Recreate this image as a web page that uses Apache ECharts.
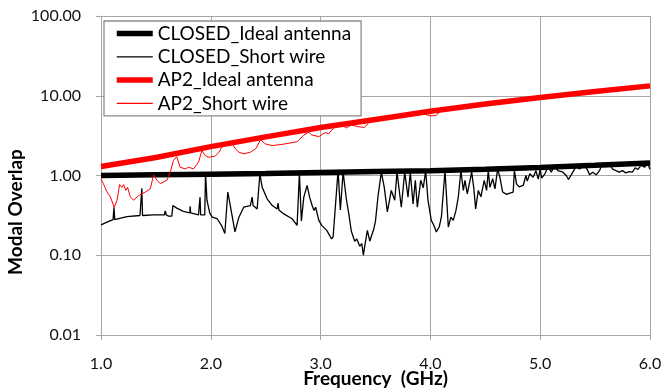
<!DOCTYPE html>
<html>
<head>
<meta charset="utf-8">
<script src="https://cdn.jsdelivr.net/npm/echarts@6/dist/echarts.min.js"></script>
<style>
  html, body { margin: 0; padding: 0; background: #fff; }
  #chart { width: 665px; height: 392px; }
</style>
</head>
<body>
<div id="chart"></div>
<script>
// Frequency axis ticks (GHz) and modal-overlap decade ticks
const freqTicks = [1.0, 2.0, 3.0, 4.0, 5.0, 6.0];
const overlapTicks = [0.01, 0.1, 1, 10, 100];

// Ideal-antenna curves (sampled every 0.5 GHz)
const idealFreq = [1.0, 1.5, 2.0, 2.5, 3.0, 3.5, 4.0, 4.5, 5.0, 5.5, 6.0];
const closedIdeal = [1.00, 1.02, 1.04, 1.06, 1.09, 1.12, 1.15, 1.20, 1.26, 1.34, 1.43];
const ap2Ideal = [1.30, 1.68, 2.30, 3.05, 4.00, 5.05, 6.40, 7.90, 9.50, 11.30, 13.30];

// CLOSED chamber, short-wire antenna
const closedWireFreq = [
  1.00, 1.055, 1.11, 1.118, 1.125, 1.236, 1.355, 1.372, 1.378, 1.48,
  1.578, 1.585, 1.595, 1.615, 1.645, 1.655, 1.69, 1.75, 1.808, 1.812,
  1.816, 1.888, 1.902, 1.908, 1.945, 1.952, 1.965, 1.99, 2.013, 2.058,
  2.097, 2.128, 2.155, 2.18, 2.22, 2.256, 2.30, 2.36, 2.377, 2.385,
  2.422, 2.447, 2.468, 2.513, 2.56, 2.604, 2.613, 2.62, 2.665, 2.74,
  2.786, 2.807, 2.825, 2.847, 2.877, 2.90, 2.923, 2.94, 2.955, 2.984,
  3.01, 3.056, 3.10, 3.114, 3.159, 3.18, 3.205, 3.235, 3.257, 3.28,
  3.311, 3.33, 3.357, 3.375, 3.39, 3.40, 3.426, 3.448, 3.487, 3.50,
  3.523, 3.553, 3.58, 3.608, 3.644, 3.675, 3.696, 3.735, 3.766, 3.796,
  3.817, 3.842, 3.863, 3.881, 3.912, 3.935, 3.957, 3.978, 4.008, 4.03,
  4.054, 4.08, 4.10, 4.133, 4.163, 4.187, 4.208, 4.233, 4.254, 4.278,
  4.30, 4.315, 4.336, 4.376, 4.395, 4.412, 4.436, 4.46, 4.49, 4.512,
  4.527, 4.542, 4.567, 4.588, 4.612, 4.633, 4.658, 4.694, 4.724, 4.754,
  4.765, 4.785, 4.809, 4.845, 4.87, 4.882, 4.906, 4.936, 4.961, 4.982,
  5.00, 5.013, 5.043, 5.073, 5.10, 5.131, 5.161, 5.207, 5.237, 5.258,
  5.297, 5.328, 5.358, 5.404, 5.434, 5.449, 5.479, 5.51, 5.54, 5.57,
  5.60, 5.63, 5.66, 5.69, 5.72, 5.75, 5.78, 5.81, 5.84, 5.865,
  5.89, 5.92, 5.95, 5.98, 6.00
];
const closedWire = [
  0.24, 0.26, 0.28, 0.40, 0.28, 0.305, 0.315, 0.69, 0.315, 0.32,
  0.322, 0.36, 0.32, 0.31, 0.31, 0.42, 0.39, 0.355, 0.34, 0.41,
  0.34, 0.32, 0.535, 0.32, 0.32, 1.07, 0.49, 0.34, 0.30, 0.287,
  0.237, 0.187, 0.62, 0.40, 0.196, 0.30, 0.40, 0.42, 0.535, 0.42,
  0.38, 1.05, 0.71, 0.51, 0.42, 0.38, 0.45, 0.37, 0.33, 0.287,
  0.237, 1.07, 0.27, 0.535, 0.75, 0.535, 0.42, 0.365, 0.40, 0.274,
  0.237, 0.205, 0.16, 0.17, 1.15, 0.37, 1.10, 0.50, 0.33, 0.20,
  0.15, 0.16, 0.13, 0.14, 0.10, 0.125, 0.205, 0.15, 0.22, 0.27,
  0.55, 1.10, 0.71, 0.35, 0.65, 0.49, 1.10, 0.40, 1.10, 0.535,
  1.10, 0.44, 0.87, 0.40, 0.87, 0.70, 1.15, 0.49, 0.274, 0.24,
  0.196, 0.226, 0.30, 1.155, 0.226, 0.30, 0.274, 0.365, 0.536, 1.155,
  0.65, 0.87, 0.59, 1.10, 0.70, 0.38, 0.65, 0.54, 0.87, 0.65,
  1.15, 0.71, 0.91, 0.68, 1.20, 0.95, 0.62, 0.58, 0.60, 0.62,
  1.15, 0.78, 0.72, 0.75, 1.00, 0.85, 1.05, 0.95, 1.15, 0.90,
  1.20, 0.93, 1.05, 1.30, 1.10, 1.30, 1.155, 1.10, 1.00, 0.89,
  1.10, 1.30, 1.21, 1.35, 1.15, 1.02, 1.10, 1.02, 1.15, 1.44,
  1.28, 1.38, 1.20, 1.15, 1.10, 1.15, 1.08, 1.12, 1.10, 1.25,
  1.19, 1.35, 1.27, 1.40, 1.20
];

// AP2 chamber, short-wire antenna
const ap2WireFreq = [
  1.00, 1.02, 1.055, 1.085, 1.12, 1.146, 1.17, 1.19, 1.206, 1.227,
  1.242, 1.267, 1.297, 1.342, 1.403, 1.449, 1.479, 1.51, 1.54, 1.60,
  1.63, 1.66, 1.69, 1.72, 1.767, 1.797, 1.843, 1.888, 1.919, 1.949,
  1.98, 2.01, 2.04, 2.074, 2.104, 2.195, 2.225, 2.256, 2.30, 2.36,
  2.413, 2.452, 2.498, 2.559, 2.68, 2.786, 2.847, 2.892, 2.92, 2.984,
  3.02, 3.045, 3.075, 3.098, 3.13, 3.19, 3.235, 3.28, 3.34, 3.40,
  3.448, 3.50, 3.70, 3.90, 3.96, 4.00, 4.05, 4.09, 4.20, 4.40,
  4.60, 4.80, 5.00, 5.30, 5.60, 5.80, 6.00
];
const ap2Wire = [
  0.90, 0.80, 0.62, 0.54, 0.40, 0.49, 0.77, 0.71, 0.77, 0.65,
  0.71, 0.54, 0.49, 0.56, 0.62, 0.68, 1.02, 0.87, 0.79, 0.87,
  1.10, 1.54, 1.72, 1.27, 1.21, 1.27, 1.21, 1.47, 2.05, 1.78,
  1.69, 1.72, 1.75, 1.96, 2.30, 2.50, 2.15, 1.96, 1.87, 1.96,
  2.19, 2.80, 2.49, 2.37, 2.49, 2.66, 3.20, 3.50, 3.22, 3.07,
  3.32, 3.45, 3.35, 3.65, 4.10, 4.30, 3.95, 4.30, 4.10, 4.00,
  4.75, 4.90, 5.55, 6.05, 5.80, 5.60, 5.65, 6.30, 6.75, 7.35,
  8.10, 8.80, 9.35, 10.40, 11.60, 12.30, 13.10
];

const pairs = (xs, ys) => xs.map((x, i) => [x, ys[i]]);

const FONT = 'Lato, "Open Sans", sans-serif';
const GRID_GRAY = '#a6a6a6';
const THICK = 5.5;
const THIN = 1.3;

// Legend entries: plain line swatches (the circular marker is hidden)
const legendEntry = (name, width) => ({
  name,
  itemStyle: { opacity: 0 },
  lineStyle: { width }
});

const chart = echarts.init(document.getElementById('chart'), null, { renderer: 'canvas' });
chart.setOption({
  animation: false,
  backgroundColor: '#ffffff',
  grid: { left: 101, right: 15, top: 16, bottom: 57, containLabel: false, outerBoundsMode: 'none' },
  legend: {
    left: 104,
    top: 21,
    orient: 'vertical',
    padding: [3, 10, 3, 10],
    itemWidth: 36,
    itemHeight: 16,
    itemGap: 4.3,
    borderColor: '#8c8c8c',
    borderWidth: 1.3,
    backgroundColor: '#ffffff',
    textStyle: { fontFamily: FONT, fontSize: 19, lineHeight: 19, color: '#000' },
    data: [
      legendEntry('CLOSED_Ideal antenna', THICK),
      legendEntry('CLOSED_Short wire', THIN),
      legendEntry('AP2_Ideal antenna', THICK),
      legendEntry('AP2_Short wire', THIN)
    ]
  },
  xAxis: {
    type: 'value',
    min: freqTicks[0],
    max: freqTicks[freqTicks.length - 1],
    interval: 1,
    name: 'Frequency  (GHz)',
    nameLocation: 'middle',
    nameGap: 34,
    nameMoveOverlap: false,
    nameTextStyle: { fontFamily: FONT, fontSize: 19, fontWeight: 'bold', color: '#000' },
    axisLine: { lineStyle: { color: GRID_GRAY, width: 1 } },
    axisTick: { show: true, inside: false, length: 5, lineStyle: { color: GRID_GRAY } },
    axisLabel: { fontFamily: FONT, fontSize: 16, color: '#111', margin: 21,
                 formatter: v => v.toFixed(1) },
    splitLine: { show: true, lineStyle: { color: GRID_GRAY, width: 1 } }
  },
  yAxis: {
    type: 'log',
    logBase: 10,
    min: overlapTicks[0],
    max: overlapTicks[overlapTicks.length - 1],
    axisLine: { show: true, lineStyle: { color: GRID_GRAY, width: 1 } },
    axisTick: { show: true, inside: false, length: 5, lineStyle: { color: GRID_GRAY } },
    minorTick: { show: false },
    axisLabel: { fontFamily: FONT, fontSize: 16, color: '#111', margin: 20,
                 formatter: v => Number(v).toFixed(2) },
    splitLine: { show: true, lineStyle: { color: GRID_GRAY, width: 1 } }
  },
  graphic: [{
    type: 'text',
    x: 16,
    y: 212,
    rotation: Math.PI / 2,
    style: {
      text: 'Modal Overlap',
      font: 'bold 19px ' + FONT,
      fill: '#000',
      align: 'center',
      verticalAlign: 'middle',
      textAlign: 'center',
      textVerticalAlign: 'middle'
    }
  }],
  series: [
    {
      name: 'CLOSED_Ideal antenna', type: 'line', showSymbol: false, symbol: 'none',
      data: pairs(idealFreq, closedIdeal),
      lineStyle: { color: '#000000', width: THICK }, itemStyle: { color: '#000000' }
    },
    {
      name: 'CLOSED_Short wire', type: 'line', showSymbol: false, symbol: 'none',
      data: pairs(closedWireFreq, closedWire),
      lineStyle: { color: '#000000', width: THIN }, itemStyle: { color: '#000000' }
    },
    {
      name: 'AP2_Ideal antenna', type: 'line', showSymbol: false, symbol: 'none',
      data: pairs(idealFreq, ap2Ideal),
      lineStyle: { color: '#ff0000', width: THICK }, itemStyle: { color: '#ff0000' }
    },
    {
      name: 'AP2_Short wire', type: 'line', showSymbol: false, symbol: 'none',
      data: pairs(ap2WireFreq, ap2Wire),
      lineStyle: { color: '#ff0000', width: 1 }, itemStyle: { color: '#ff0000' }
    }
  ]
});
</script>
</body>
</html>
